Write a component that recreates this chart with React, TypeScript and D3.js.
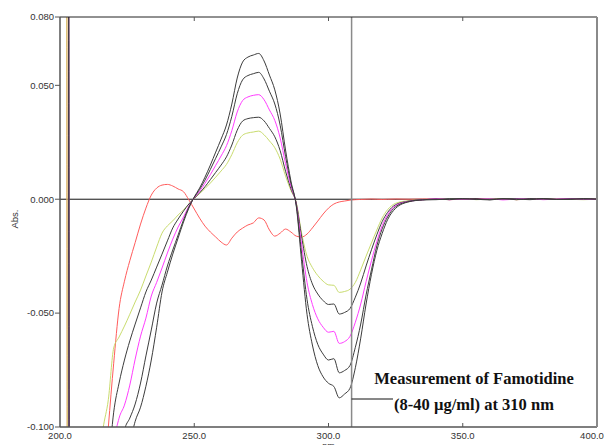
import React, {useRef, useEffect} from 'react'
import * as d3 from 'd3'

// wavelength grid (nm)
const wavelengths = [
  202.4, 203.0, 203.6, 212, 216,
  218, 220, 222, 224, 226, 228, 230, 232, 234, 236, 238, 240, 242, 244, 246, 248,
  250, 252, 254, 256, 258, 260, 262, 264, 266, 268, 270, 272, 274, 276, 278, 280,
  282, 284, 286, 288, 290, 292, 294, 296, 298, 300, 302, 304, 306, 308, 310, 312,
  314, 316, 318, 320, 322, 325, 330, 335,
  340, 345, 350, 355, 360, 365, 370, 375, 380, 385, 390, 395, 400
]

// first derivative spectra, one per concentration
const conc8 = [
  0.3, -0.3, -0.3, -0.15, -0.101,
  -0.088, -0.0653, -0.0605, -0.0557, -0.0505, -0.0451, -0.0399, -0.0337, -0.0276, -0.021, -0.0149, -0.0117, -0.0095, -0.0069, -0.0047, -0.0021,
  0.0003, 0.0025, 0.0047, 0.0071, 0.0097, 0.0124, 0.0153, 0.0196, 0.0248, 0.0281, 0.0291, 0.0295, 0.0299, 0.0283, 0.0256, 0.0226,
  0.0176, 0.0102, 0.0038, -0.0014, -0.015, -0.025, -0.03, -0.0335, -0.036, -0.0376, -0.0378, -0.0409, -0.0405, -0.0395, -0.0365, -0.031,
  -0.025, -0.0192, -0.0135, -0.0082, -0.0046, -0.0018, -0.0006, -0.0002,
  0.0002, -0.0001, 0.0003, -0.0002, 0.0001, 0.0003, -0.0002, 0.0001, -0.0001, 0.0002, 0.0, -0.0002, 0.0001
]
const conc16 = [
  0.3, 0.3, -0.3, -0.2, -0.14,
  -0.118, -0.0935, -0.0807, -0.0706, -0.0622, -0.0548, -0.0477, -0.0407, -0.0355, -0.0298, -0.0241, -0.0183, -0.0126, -0.0087, -0.0052, -0.0021,
  0.0004, 0.0028, 0.0055, 0.0086, 0.0118, 0.015, 0.0186, 0.0238, 0.0303, 0.0343, 0.0354, 0.0358, 0.036, 0.0344, 0.0311, 0.0274,
  0.0213, 0.0123, 0.0046, -0.0018, -0.0165, -0.0295, -0.0372, -0.0416, -0.0445, -0.0462, -0.046, -0.0504, -0.0497, -0.048, -0.043, -0.0368,
  -0.0293, -0.0222, -0.0156, -0.0098, -0.0058, -0.0024, -0.0008, -0.0002,
  -0.0001, 0.0002, 0.0, 0.0003, -0.0002, 0.0001, 0.0002, -0.0001, 0.0003, -0.0001, 0.0001, 0.0002, 0.0
]
const conc24 = [
  0.3, 0.3, -0.3, -0.22, -0.16,
  -0.135, -0.108, -0.0961, -0.0904, -0.0816, -0.0702, -0.0601, -0.0522, -0.0425, -0.0365, -0.0302, -0.0236, -0.0175, -0.0122, -0.0078, -0.003,
  0.0006, 0.0035, 0.007, 0.0108, 0.0149, 0.019, 0.0235, 0.0301, 0.0383, 0.0433, 0.0449, 0.0456, 0.0459, 0.0437, 0.0392, 0.0346,
  0.0269, 0.0156, 0.0058, -0.0022, -0.02, -0.0365, -0.0462, -0.0525, -0.0562, -0.0584, -0.058, -0.0633, -0.0625, -0.0602, -0.054, -0.046,
  -0.0362, -0.027, -0.0185, -0.0116, -0.0068, -0.0028, -0.0009, -0.0003,
  0.0003, -0.0002, 0.0001, -0.0001, 0.0002, -0.0003, 0.0001, 0.0002, -0.0002, 0.0001, 0.0003, -0.0001, 0.0
]
const conc32 = [
  0.3, 0.3, -0.3, -0.25, -0.19,
  -0.17, -0.145, -0.122, -0.1015, -0.0961, -0.0899, -0.0807, -0.0688, -0.0574, -0.0456, -0.0377, -0.0293, -0.0223, -0.0157, -0.0091, -0.0034,
  0.0008, 0.0043, 0.0084, 0.0131, 0.018, 0.023, 0.0284, 0.0364, 0.0463, 0.0524, 0.0543, 0.0551, 0.0557, 0.0528, 0.0474, 0.0418,
  0.0325, 0.0188, 0.007, -0.0026, -0.024, -0.044, -0.0558, -0.0637, -0.068, -0.0706, -0.07, -0.0762, -0.0752, -0.073, -0.065, -0.0548,
  -0.042, -0.031, -0.0205, -0.013, -0.0078, -0.0033, -0.001, -0.0003,
  -0.0002, 0.0001, 0.0003, -0.0001, 0.0, 0.0002, -0.0002, 0.0003, 0.0001, -0.0001, 0.0002, 0.0, 0.0001
]
const conc40 = [
  0.3, 0.3, -0.3, -0.28, -0.22,
  -0.195, -0.17, -0.148, -0.125, -0.108, -0.0975, -0.0913, -0.0821, -0.0706, -0.0562, -0.0407, -0.032, -0.0241, -0.017, -0.01, -0.0039,
  0.001, 0.0049, 0.0097, 0.015, 0.0207, 0.0264, 0.0326, 0.0418, 0.0532, 0.0602, 0.0624, 0.0633, 0.064, 0.0607, 0.0545, 0.048,
  0.0374, 0.0216, 0.008, -0.003, -0.0275, -0.0505, -0.064, -0.073, -0.078, -0.0808, -0.0822, -0.0872, -0.0855, -0.083, -0.074, -0.061,
  -0.046, -0.033, -0.0225, -0.015, -0.009, -0.004, -0.0011, -0.0003,
  0.0001, -0.0002, 0.0002, 0.0, -0.0003, 0.0002, 0.0001, -0.0002, 0.0002, 0.0, -0.0001, 0.0003, 0.0
]
// placebo / blank trace
const blank = [
  0.3, -0.3, -0.3, -0.22, -0.13,
  -0.1, -0.072, -0.048, -0.036, -0.027, -0.019, -0.0109, -0.0039, 0.0018, 0.0049, 0.0062, 0.0065, 0.0058, 0.0045, 0.0033, -0.0003,
  -0.0043, -0.0083, -0.0118, -0.0144, -0.0166, -0.0188, -0.0201, -0.0171, -0.0144, -0.0127, -0.0113, -0.0104, -0.0082, -0.0091, -0.0135, -0.0162,
  -0.0149, -0.0131, -0.0144, -0.0162, -0.0166, -0.0153, -0.0126, -0.0096, -0.0065, -0.0039, -0.0021, -0.0012, -0.0008, -0.0004, -0.0002, -0.0001,
  0.0, 0.0001, 0.0, -0.0001, 0.0, 0.0001, 0.0, 0.0001,
  0.0002, -0.0002, 0.0001, 0.0003, -0.0001, 0.0002, -0.0002, 0.0001, 0.0002, -0.0001, 0.0002, 0.0001, 0.0
]

const xTicks = [200, 250, 300, 350, 400]
const yTicks = [0.08, 0.05, 0, -0.05, -0.1]
const cursorNm = 308.6
const noteLines = ['Measurement of Famotidine', '(8-40 µg/ml) at 310 nm']

export default function App() {
  const svgRef = useRef(null)

  useEffect(() => {
    document.body.style.margin = '0'
    const svg = d3.select(svgRef.current)
    svg.selectAll('*').remove()

    const left = 60
    const right = 597
    const top = 17
    const bottom = 427
    const sans = "'Liberation Sans', Arial, sans-serif"

    const x = d3.scaleLinear().domain([200, 400]).range([left, right])
    const y = d3.scaleLinear().domain([-0.1, 0.08]).range([bottom, top])

    svg
      .append('defs')
      .append('clipPath')
      .attr('id', 'plotClip')
      .append('rect')
      .attr('x', left)
      .attr('y', top)
      .attr('width', right - left)
      .attr('height', bottom - top)

    // zero line
    svg
      .append('line')
      .attr('x1', left)
      .attr('x2', right)
      .attr('y1', y(0))
      .attr('y2', y(0))
      .attr('stroke', '#111')
      .attr('stroke-width', 1)

    const series = [
      {values: blank, color: '#ff5c5c'},
      {values: conc8, color: '#c9dc6e'},
      {values: conc16, color: '#3c3c3c'},
      {values: conc24, color: '#ff3cff'},
      {values: conc32, color: '#3c3c3c'},
      {values: conc40, color: '#3c3c3c'}
    ]

    const line = d3
      .line()
      .x(d => x(d[0]))
      .y(d => y(d[1]))
      .curve(d3.curveMonotoneX)

    const lines = svg.append('g').attr('clip-path', 'url(#plotClip)')
    series.forEach(s => {
      lines
        .append('path')
        .attr('d', line(wavelengths.map((w, i) => [w, s.values[i]])))
        .attr('fill', 'none')
        .attr('stroke', s.color)
        .attr('stroke-width', 1)
    })

    // cursor
    svg
      .append('line')
      .attr('x1', x(cursorNm))
      .attr('x2', x(cursorNm))
      .attr('y1', top)
      .attr('y2', bottom)
      .attr('stroke', '#8a8a8a')
      .attr('stroke-width', 1.5)

    // frame
    const frame = svg.append('g').attr('fill', 'none')
    frame.append('line').attr('x1', left).attr('x2', right).attr('y1', top).attr('y2', top).attr('stroke', '#222').attr('stroke-width', 1)
    frame.append('line').attr('x1', left).attr('x2', right).attr('y1', bottom).attr('y2', bottom).attr('stroke', '#555').attr('stroke-width', 1.5)
    frame.append('line').attr('x1', left).attr('x2', left).attr('y1', top).attr('y2', bottom).attr('stroke', '#555').attr('stroke-width', 1.5)
    frame.append('line').attr('x1', right).attr('x2', right).attr('y1', top).attr('y2', bottom).attr('stroke', '#8a8a8a').attr('stroke-width', 2)

    // y axis
    yTicks.forEach(t => {
      svg
        .append('line')
        .attr('x1', left - 5)
        .attr('x2', left)
        .attr('y1', y(t))
        .attr('y2', y(t))
        .attr('stroke', '#555')
      svg
        .append('text')
        .attr('x', left - 6)
        .attr('y', y(t))
        .attr('dy', '0.35em')
        .attr('text-anchor', 'end')
        .style('font-family', sans)
        .style('font-size', '9.5px')
        .attr('fill', '#333')
        .text(t.toFixed(3))
    })

    // x axis
    xTicks.forEach((t, i) => {
      if (i > 0 && i < xTicks.length - 1) {
        svg.append('line').attr('x1', x(t)).attr('x2', x(t)).attr('y1', bottom).attr('y2', bottom - 4).attr('stroke', '#555')
        svg.append('line').attr('x1', x(t)).attr('x2', x(t)).attr('y1', top).attr('y2', top + 4).attr('stroke', '#555')
      }
      svg
        .append('text')
        .attr('x', Math.min(x(t), 592))
        .attr('y', 439)
        .attr('text-anchor', 'middle')
        .style('font-family', sans)
        .style('font-size', '9.5px')
        .attr('fill', '#333')
        .text(t.toFixed(1))
    })

    svg
      .append('text')
      .attr('transform', `translate(18,219) rotate(-90)`)
      .attr('text-anchor', 'middle')
      .style('font-family', sans)
      .style('font-size', '9.5px')
      .attr('fill', '#333')
      .text('Abs.')

    // axis title, mostly below the picture edge as in the original
    svg
      .append('text')
      .attr('x', (left + right) / 2)
      .attr('y', 449)
      .attr('text-anchor', 'middle')
      .style('font-family', sans)
      .style('font-size', '9px')
      .attr('fill', '#333')
      .text('nm')

    // annotation
    svg
      .append('line')
      .attr('x1', x(cursorNm))
      .attr('x2', 393)
      .attr('y1', 399)
      .attr('y2', 399)
      .attr('stroke', '#111')
    noteLines.forEach((txt, i) => {
      svg
        .append('text')
        .attr('x', 474)
        .attr('y', 384 + i * 26)
        .attr('text-anchor', 'middle')
        .style('font-family', "'Liberation Serif', 'Times New Roman', serif")
        .style('font-weight', 'bold')
        .style('font-size', '16.5px')
        .attr('fill', '#111')
        .text(txt)
    })
  }, [])

  return <svg ref={svgRef} width={607} height={445} style={{display: 'block'}} />
}
